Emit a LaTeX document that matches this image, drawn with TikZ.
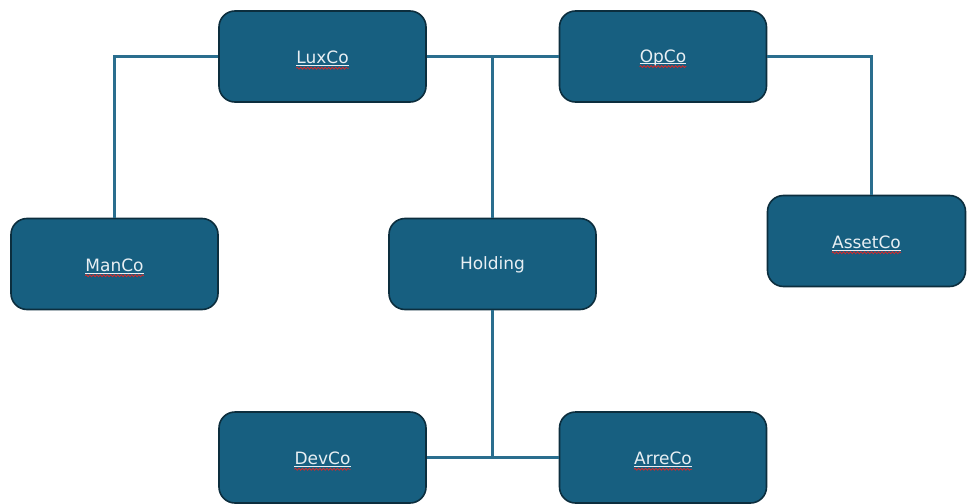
\documentclass[tikz,border=0pt]{standalone}
\usepackage{fontspec}
\setmainfont{DejaVu Sans}
\usepackage{xcolor}
\definecolor{BoxBlue}{HTML}{175F80}
\definecolor{BoxEdge}{HTML}{0C2E3E}
\definecolor{LinkBlue}{HTML}{2A6E8E}
\definecolor{BoxText}{HTML}{E8EFF3}
\definecolor{SpellRed}{HTML}{D42A2A}
\usetikzlibrary{positioning}
\usetikzlibrary{decorations.pathmorphing}

\tikzset{
	entity/.style={draw=BoxEdge, line width=1.6pt, fill=BoxBlue, rounded corners=16pt,
		minimum width=207pt, minimum height=91pt},
	entitylabel/.style={inner sep=0pt, text=BoxText, font=\fontsize{17}{20}\selectfont},
	link/.style={draw=LinkBlue, line width=2.2pt},
	underl/.style={draw=BoxText, line width=0.8pt},
	squiggle/.style={draw=SpellRed, line width=0.8pt, decorate,
		decoration={snake, segment length=3.5pt, amplitude=1pt}}
}

% underline and spell-check wave under a label
\newcommand{\spellmark}[1]{
	\draw[underl] ([yshift=-1.8pt]#1.base west) -- ([yshift=-1.8pt]#1.base east);
	\draw[squiggle] ([yshift=-4.5pt]#1.base west) -- ([yshift=-4.5pt]#1.base east);
}

\begin{document}
\begin{tikzpicture}[x=1pt,y=-1pt]
	\useasboundingbox (0,0) rectangle (968,503);
	
	\def\topY{56.5}  % top row
	\def\midY{264}   % middle row
	\def\botY{457.5} % bottom row
	
	% entities
	\node[entity] (luxco) at (322.5,\topY) {};
	\node[entity] (opco) at (663,\topY) {};
	\node[entity] (manco) at (114.5,\midY) {};
	\node[entity] (holding) at (492.5,\midY) {};
	\node[entity, minimum width=198pt] (assetco) at (866.5,241) {};
	\node[entity] (devco) at (322.5,\botY) {};
	\node[entity] (arreco) at (663,\botY) {};
	
	% names
	\node[entitylabel] (luxco-t) at ([yshift=-1pt]luxco) {LuxCo};
	\node[entitylabel] (opco-t) at ([yshift=-1pt]opco) {OpCo};
	\node[entitylabel] (manco-t) at ([yshift=-1pt]manco) {ManCo};
	\node[entitylabel] (holding-t) at ([yshift=-1pt]holding) {Holding};
	\node[entitylabel] (assetco-t) at ([yshift=-1pt]assetco) {AssetCo};
	\node[entitylabel] (devco-t) at ([yshift=-1pt]devco) {DevCo};
	\node[entitylabel] (arreco-t) at ([yshift=-1pt]arreco) {ArreCo};
	\foreach \n in {luxco-t,opco-t,manco-t,assetco-t,devco-t,arreco-t}{
		\spellmark{\n}
	}
	
	\coordinate (topjoin) at (holding.north |- luxco.east);
	\coordinate (botjoin) at (holding.south |- devco.east);
	
	% links
	\draw[link] (luxco.west) -| (manco.north);
	\draw[link] (luxco.east) -- (opco.west);
	\draw[link] (topjoin) -- (holding.north);
	\draw[link] (opco.east) -| ([xshift=5pt]assetco.north);
	\draw[link] (holding.south) -- (botjoin);
	\draw[link] (devco.east) -- (arreco.west);
	
\end{tikzpicture}
\end{document}
